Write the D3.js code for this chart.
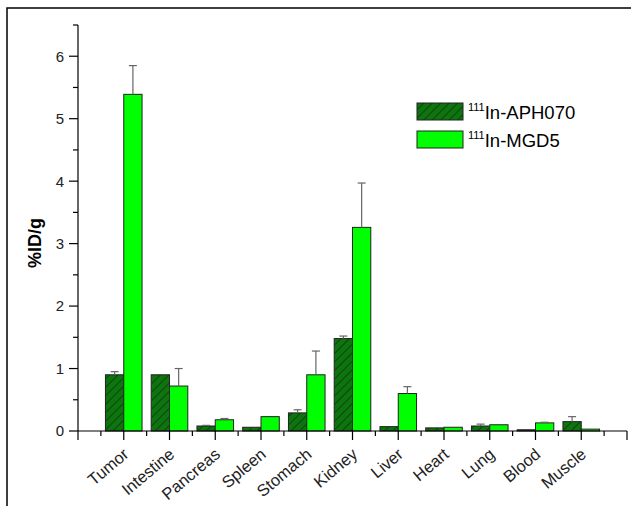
<!DOCTYPE html>
<html><head><meta charset="utf-8">
<script src="https://cdn.jsdelivr.net/npm/d3@7"></script>
<style>body{margin:0;background:#fff}svg{display:block;font-family:Arial,"Liberation Sans",sans-serif}</style>
</head><body><svg id="c" width="631" height="506"></svg>
<script>
const categories = ["Tumor","Intestine","Pancreas","Spleen","Stomach","Kidney","Liver","Heart","Lung","Blood","Muscle"];
const aphValues = [0.90,0.90,0.08,0.06,0.29,1.48,0.07,0.05,0.08,0.02,0.15];
const aphErrors = [0.05,0.00,0.01,0.00,0.05,0.04,0.00,0.00,0.03,0.00,0.08];
const mgdValues = [5.39,0.72,0.18,0.23,0.90,3.26,0.60,0.06,0.10,0.13,0.03];
const mgdErrors = [0.46,0.28,0.02,0.00,0.38,0.71,0.11,0.00,0.00,0.01,0.00];
const seriesNames = ["APH070","MGD5"];
const yTicks = [0,1,2,3,4,5,6];

const svg = d3.select("#c");
const defs = svg.append("defs");
const pat = defs.append("pattern").attr("id","hatch").attr("patternUnits","userSpaceOnUse")
  .attr("width",6).attr("height",6).attr("patternTransform","rotate(45)");
pat.append("rect").attr("width",6).attr("height",6).attr("fill","#0d750d");
pat.append("line").attr("x1",0).attr("y1",0).attr("x2",0).attr("y2",6).attr("stroke","#111").attr("stroke-width",1);

// outer frame
svg.append("rect").attr("x",7).attr("y",8).attr("width",660).attr("height",540)
  .attr("fill","none").attr("stroke","#000").attr("stroke-width",1.5);

const x = d3.scaleLinear().domain([0,12]).range([78,627]);
const y = d3.scaleLinear().domain([0,6.5]).range([431,25]);
const bw = x(0.4)-x(0);

// bars
const g = svg.append("g");
categories.forEach((c,i)=>{
  const cx = x(i+1);
  g.append("rect").attr("x",cx-bw).attr("y",y(aphValues[i])).attr("width",bw)
    .attr("height",y(0)-y(aphValues[i])).attr("fill","url(#hatch)").attr("stroke","#222").attr("stroke-width",1);
  g.append("rect").attr("x",cx).attr("y",y(mgdValues[i])).attr("width",bw)
    .attr("height",y(0)-y(mgdValues[i])).attr("fill","#00ff00").attr("stroke","#222").attr("stroke-width",1);
});
// error bars
const eg = svg.append("g").attr("stroke","#666").attr("stroke-width",1.2);
categories.forEach((c,i)=>{
  [[aphValues,aphErrors,-bw/2],[mgdValues,mgdErrors,bw/2]].forEach(([v,e,off])=>{
    if(e[i]<=0) return;
    const cx = x(i+1)+off;
    eg.append("line").attr("x1",cx).attr("x2",cx).attr("y1",y(v[i])).attr("y2",y(v[i]+e[i]));
    eg.append("line").attr("x1",cx-4).attr("x2",cx+4).attr("y1",y(v[i]+e[i])).attr("y2",y(v[i]+e[i]));
  });
});

// Y axis
const ya = svg.append("g").attr("transform","translate(78,0)");
ya.append("line").attr("x1",0).attr("x2",0).attr("y1",y(0)).attr("y2",y(6.5)).attr("stroke","#000").attr("stroke-width",1.2);
d3.range(0,6.51,0.5).forEach(v=>{
  const major = Number.isInteger(v);
  ya.append("line").attr("x1",major?-9:-5).attr("x2",0).attr("y1",y(v)).attr("y2",y(v)).attr("stroke","#000").attr("stroke-width",1.2);
});
ya.selectAll("text.yt").data(yTicks).join("text").attr("class","yt")
  .attr("x",-14).attr("y",d=>y(d)).attr("dy","0.36em").attr("text-anchor","end")
  .attr("font-size",15).attr("fill","#222").text(d=>d);
svg.append("text").attr("transform","translate(41,243) rotate(-90)").attr("text-anchor","middle")
  .attr("font-size",18).attr("font-weight","bold").text("%ID/g");

// X axis
const xa = svg.append("g");
xa.append("line").attr("x1",x(0)).attr("x2",x(12)).attr("y1",y(0)).attr("y2",y(0)).attr("stroke","#000").attr("stroke-width",1.2);
d3.range(0,12.01,0.5).forEach(v=>{
  const major = Number.isInteger(v);
  xa.append("line").attr("x1",x(v)).attr("x2",x(v)).attr("y1",y(0)).attr("y2",y(0)+(major?9:5)).attr("stroke","#000").attr("stroke-width",1.2);
});
categories.forEach((c,i)=>{
  const tx = x(i+1)+6, ty = y(0)+25;
  xa.append("text").attr("transform",`translate(${tx},${ty}) rotate(-40)`).attr("text-anchor","end")
    .attr("font-size",16.5).attr("fill","#222").text(c);
});

// legend
const lg = svg.append("g");
[["url(#hatch)",103],["#00ff00",131]].forEach(([f,ly],k)=>{
  lg.append("rect").attr("x",417).attr("y",ly).attr("width",46).attr("height",17).attr("fill",f).attr("stroke","#222").attr("stroke-width",1);
  const t = lg.append("text").attr("x",468).attr("y",ly+16).attr("font-size",18.5);
  t.append("tspan").attr("font-size",11).attr("dy",-8).text("111");
  t.append("tspan").attr("dy",8).text("In-"+seriesNames[k]);
});
</script></body></html>
